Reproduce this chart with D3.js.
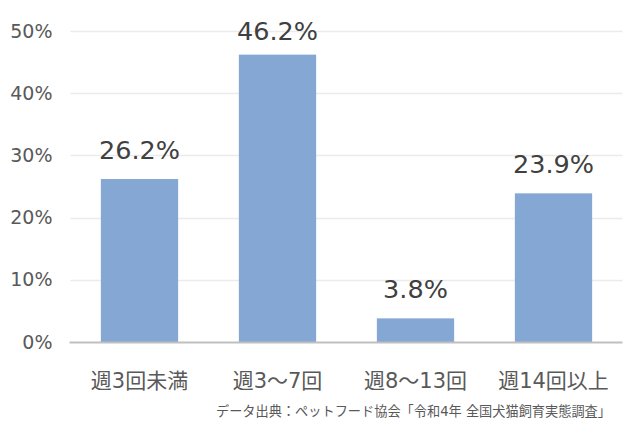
<!DOCTYPE html>
<html><head><meta charset="utf-8">
<script src="https://cdn.jsdelivr.net/npm/d3@7"></script>
<style>body{margin:0;background:#fff;}</style>
</head><body>
<svg id="c" width="633" height="433"></svg>
<script>
const categories = ["週3回未満", "週3～7回", "週8～13回", "週14回以上"];
const values = [26.2, 46.2, 3.8, 23.9];
const yTicks = [0, 10, 20, 30, 40, 50];
const source = "データ出典：ペットフード協会「令和4年 全国犬猫飼育実態調査」";

const svg = d3.select("#c");
const font = "'DejaVu Sans', 'Noto Sans CJK JP', sans-serif";
const m = {left: 70.5, right: 10.5, top: 31, bottom: 91};
const W = 633, H = 433;
const x = d3.scaleBand().domain(categories).range([m.left, W - m.right]).paddingInner(0.44).paddingOuter(0.22);
const y = d3.scaleLinear().domain([0, 50]).range([H - m.bottom, m.top]);

// gridlines
svg.append("g").selectAll("line").data(yTicks.filter(d => d > 0)).join("line")
  .attr("x1", m.left).attr("x2", W - m.right)
  .attr("y1", d => Math.round(y(d)) + 0.5).attr("y2", d => Math.round(y(d)) + 0.5)
  .attr("stroke", "#EBEBEB").attr("stroke-width", 1.5);

// y tick labels
const yAxis = d3.axisLeft(y).tickValues(yTicks).tickFormat(d => d + "%").tickSize(0).tickPadding(18);
const ga = svg.append("g").attr("transform", `translate(${m.left},0)`).call(yAxis);
ga.select(".domain").remove();
ga.selectAll("text").attr("font-family", font).attr("font-size", 19).attr("fill", "#595959");

// bars
svg.append("g").selectAll("rect").data(values).join("rect")
  .attr("x", (d, i) => x(categories[i])).attr("width", x.bandwidth())
  .attr("y", d => y(d)).attr("height", d => y(0) - y(d))
  .attr("fill", "#84A7D3");

// baseline
svg.append("line").attr("x1", m.left - 1).attr("x2", W - m.right)
  .attr("y1", y(0) + 0.5).attr("y2", y(0) + 0.5)
  .attr("stroke", "#BFBFBF").attr("stroke-width", 2);

// value labels
svg.append("g").selectAll("text").data(values).join("text")
  .attr("x", (d, i) => x(categories[i]) + x.bandwidth() / 2)
  .attr("y", d => Math.max(y(d) - 20, 40))
  .attr("text-anchor", "middle")
  .attr("font-family", font).attr("font-size", 25.5).attr("fill", "#404040")
  .text(d => d.toFixed(1) + "%");

// x labels
const xAxis = d3.axisBottom(x).tickSize(0).tickPadding(31);
const gx = svg.append("g").attr("transform", `translate(0,${y(0)})`).call(xAxis);
gx.select(".domain").remove();
gx.selectAll("text").attr("font-family", font).attr("font-size", 21).attr("fill", "#595959");

// source
svg.append("text").attr("x", 611).attr("y", 416).attr("text-anchor", "end")
  .attr("font-family", font).attr("font-size", 13.2).attr("fill", "#595959").text(source);
</script>
</body></html>
